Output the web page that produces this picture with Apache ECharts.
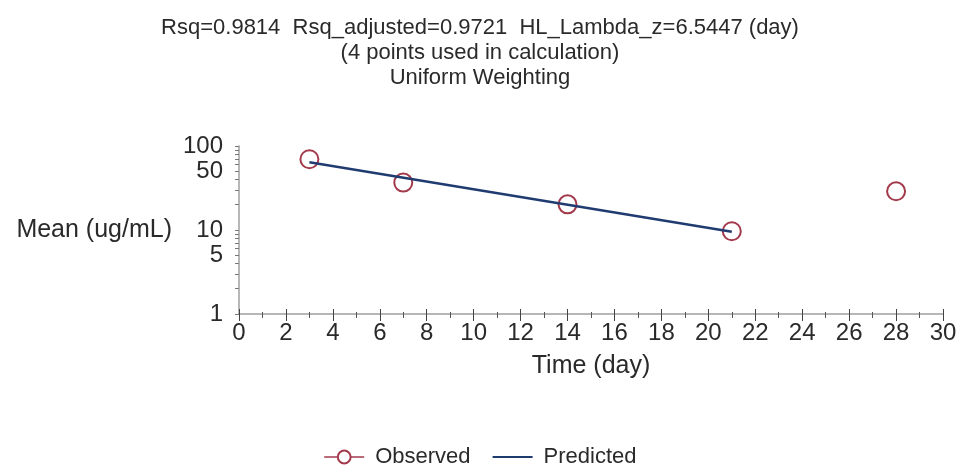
<!DOCTYPE html>
<html>
<head>
<meta charset="utf-8">
<script src="https://cdn.jsdelivr.net/npm/echarts@6/dist/echarts.min.js"></script>
<style>
  html, body { margin: 0; padding: 0; background: #ffffff; }
  #chart { width: 960px; height: 473px; }
</style>
</head>
<body>
<div id="chart"></div>
<script>
// Observed concentrations (ug/mL) by sampling day
const observedTime = [3, 7, 14, 21, 28];
const observedMean = [69.5, 36.7, 20.2, 9.66, 28.9];

// Terminal-phase regression line over the 4 points used
const predictedTime = [3, 21];
const predictedMean = [64.0, 9.52];

// Axis ticks and labels
const yLabelValues = [1, 5, 10, 50, 100];
const yTickValues = [1, 2, 3, 4, 5, 6, 7, 8, 9, 10, 20, 30, 40, 50, 60, 70, 80, 90, 100];
const xMin = 0, xMax = 30, xStep = 2;

const titleLines = [
  'Rsq=0.9814  Rsq_adjusted=0.9721  HL_Lambda_z=6.5447 (day)',
  '(4 points used in calculation)',
  'Uniform Weighting'
];

const FONT = '"Liberation Sans", Arial, sans-serif';
const TEXT = '#2a2a2a';
const OBS_COLOR = '#a33a4c';
const PRED_COLOR = '#1f3b70';

const observedData = observedTime.map((t, i) => [t, observedMean[i]]);
const predictedData = predictedTime.map((t, i) => [t, predictedMean[i]]);

const chart = echarts.init(document.getElementById('chart'), null, { renderer: 'canvas' });

chart.setOption({
  animation: false,
  backgroundColor: '#ffffff',
  title: {
    text: titleLines.join('\n'),
    left: 'center',
    top: 10,
    textStyle: {
      fontFamily: FONT, fontSize: 22, fontWeight: 'normal', color: TEXT, lineHeight: 25
    }
  },
  legend: {
    bottom: 0,
    left: 'center',
    itemWidth: 40,
    itemHeight: 16,
    itemGap: 22,
    textStyle: { fontFamily: FONT, fontSize: 22, color: TEXT, padding: [0, 0, 0, 6] },
    data: [
      { name: 'Observed', lineStyle: { opacity: 1, color: OBS_COLOR, width: 1.5 } },
      { name: 'Predicted', icon: 'path://M0 0 L40 0 L40 2.2 L0 2.2 Z' }
    ]
  },
  grid: { left: 239, right: 17, top: 146, bottom: 159, containLabel: false },
  xAxis: [
    {
      type: 'value', min: xMin, max: xMax, interval: xStep,
      position: 'bottom',
      axisLine: { show: true, lineStyle: { color: '#a0a0a0', width: 1.5 } },
      axisTick: { show: true, length: 7, lineStyle: { color: '#444', width: 1 } },
      minorTick: { show: true, splitNumber: 2, length: 4, lineStyle: { color: '#555', width: 1 } },
      splitLine: { show: false },
      axisLabel: { fontFamily: FONT, fontSize: 24, color: TEXT, margin: 7 },
      name: 'Time (day)', nameLocation: 'middle', nameGap: 40,
      nameTextStyle: { fontFamily: FONT, fontSize: 25, color: TEXT }
    },
    {
      type: 'value', min: xMin, max: xMax, interval: xStep,
      position: 'bottom',
      axisLine: { show: false },
      axisTick: { show: true, inside: true, length: 5, lineStyle: { color: '#444', width: 1 } },
      minorTick: { show: true, splitNumber: 2, length: 2, lineStyle: { color: '#555', width: 1 } },
      splitLine: { show: false },
      axisLabel: { show: false }
    }
  ],
  yAxis: [
    {
      type: 'log', logBase: 10, min: 1, max: 100,
      axisLine: { show: true, lineStyle: { color: '#a0a0a0', width: 1.5 } },
      axisTick: { show: true, customValues: yTickValues, length: 4, lineStyle: { color: '#777', width: 1 } },
      splitLine: { show: false },
      axisLabel: {
        customValues: yLabelValues,
        fontFamily: FONT, fontSize: 24, color: TEXT, margin: 16
      },
      name: 'Mean (ug/mL)', nameLocation: 'middle', nameRotate: 0, nameGap: 67,
      nameTextStyle: { fontFamily: FONT, fontSize: 25, color: TEXT }
    }
  ],
  series: [
    {
      name: 'Observed',
      type: 'line',
      data: observedData,
      symbol: 'emptyCircle',
      symbolSize: 18,
      showSymbol: true,
      itemStyle: { color: OBS_COLOR, borderColor: OBS_COLOR, borderWidth: 1.6 },
      lineStyle: { opacity: 0 },
      z: 2
    },
    {
      name: 'Predicted',
      type: 'line',
      data: predictedData,
      symbol: 'none',
      lineStyle: { color: PRED_COLOR, width: 2.4 },
      itemStyle: { color: PRED_COLOR },
      z: 3
    }
  ]
});
</script>
</body>
</html>
